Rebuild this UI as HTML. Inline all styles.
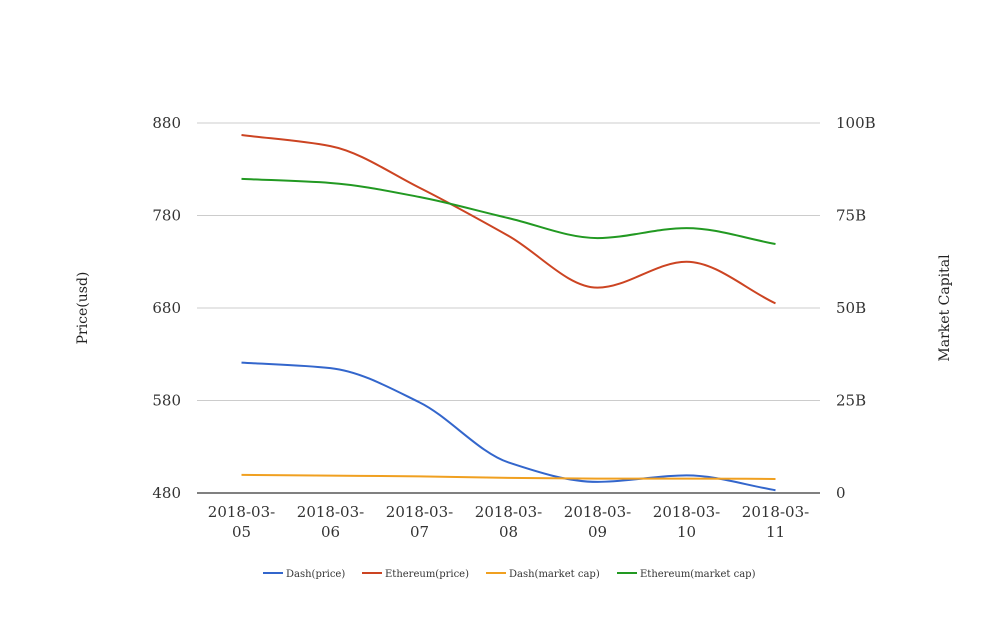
<!DOCTYPE html>
<html><head><meta charset="utf-8"><style>
body{margin:0;background:#fff;}
svg{font-family:"DejaVu Serif","Liberation Serif",serif;}
</style></head><body>
<svg id="chart" width="1008" height="616" xmlns="http://www.w3.org/2000/svg"></svg>
<script>
const categories=["2018-03-05","2018-03-06","2018-03-07","2018-03-08","2018-03-09","2018-03-10","2018-03-11"];
const dashPrice=[621,615,578,513,492,499,483];
const ethPrice=[867,855,810,758,702,730,685];
const dashCap=[4.9,4.7,4.5,4.1,3.9,3.9,3.8];
const ethCap=[84.9,83.8,80,74.3,68.9,71.6,67.3];
const leftTicks=[480,580,680,780,880];
const rightTicks=[0,25,50,75,100];
const rightTickLabels=["0","25B","50B","75B","100B"];

const NS="http://www.w3.org/2000/svg";
const svg=document.getElementById('chart');
const X0=197,X1=820,Y0=493,Y1=123;
const bw=(X1-X0)/categories.length;
const xs=i=>X0+bw*(i+0.5);
const yL=v=>Y0-(v-480)/400*(Y0-Y1);
const yR=v=>Y0-v/100*(Y0-Y1);
function mk(t,a,parent){const e=document.createElementNS(NS,t);for(const k in a)e.setAttribute(k,a[k]);(parent||svg).appendChild(e);return e;}
function txt(s,a){const e=mk('text',a);e.textContent=s;return e;}

leftTicks.forEach((v,i)=>{
  if(i>0){const g=mk('line',{x1:X0,x2:X1,y1:yL(v),y2:yL(v),stroke:'#ccc'});
  
  }
  const t=txt(String(v),{x:181,y:yL(v)+5,'text-anchor':'end','font-size':15,fill:'#333'});
  
  
});
rightTicks.forEach((v,i)=>{
  const t=txt(rightTickLabels[i],{x:836,y:yR(v)+5,'font-size':15,fill:'#333'});
  
  
});
const ax=mk('line',{x1:X0,x2:X1,y1:Y0,y2:Y0,stroke:'#000'});


categories.forEach((c,i)=>{
  const p=c.split('-');
  const t=txt(p[0]+'-'+p[1]+'-',{x:xs(i),y:517,'text-anchor':'middle','font-size':15,fill:'#333'});
  
  
  const t2=txt(p[2],{x:xs(i),y:537,'text-anchor':'middle','font-size':15,fill:'#333'});
  
  
});
const lt=txt('Price(usd)',{x:0,y:0,'text-anchor':'middle','font-size':14,fill:'#222',transform:'translate(87,308) rotate(-90)'});


const rt=txt('Market Capital',{x:0,y:0,'text-anchor':'middle','font-size':14,fill:'#222',transform:'translate(949,308) rotate(-90)'});



function monotone(pts){
  const n=pts.length,d=[],m=[];
  for(let i=0;i<n-1;i++)d.push((pts[i+1][1]-pts[i][1])/(pts[i+1][0]-pts[i][0]));
  m[0]=d[0];m[n-1]=d[n-2];
  for(let i=1;i<n-1;i++){m[i]=(d[i-1]*d[i]>0)?2/(1/d[i-1]+1/d[i]):0;}
  let s='M'+pts[0][0]+','+pts[0][1];
  for(let i=0;i<n-1;i++){const h=(pts[i+1][0]-pts[i][0])/3;
    s+=' C'+(pts[i][0]+h)+','+(pts[i][1]+m[i]*h)+' '+(pts[i+1][0]-h)+','+(pts[i+1][1]-m[i+1]*h)+' '+pts[i+1][0]+','+pts[i+1][1];}
  return s;
}
const series=[
 {name:'Dash(price)',data:dashPrice,y:yL,color:'#3366cc',key:'dash-price'},
 {name:'Ethereum(price)',data:ethPrice,y:yL,color:'#cc4422',key:'ethereum-price'},
 {name:'Dash(market cap)',data:dashCap,y:yR,color:'#f0a020',key:'dash-market-cap'},
 {name:'Ethereum(market cap)',data:ethCap,y:yR,color:'#229922',key:'ethereum-market-cap'}];
series.forEach(s=>{
  const p=mk('path',{d:monotone(s.data.map((v,i)=>[xs(i),s.y(v)])),fill:'none',stroke:s.color,'stroke-width':2});
  
  
});
const legX=[263,362,486,617];
series.forEach((s,i)=>{
  const g=mk('g',{});
  
  
  mk('line',{x1:legX[i],x2:legX[i]+20,y1:573,y2:573,stroke:s.color,'stroke-width':2},g);
  const t=mk('text',{x:legX[i]+23,y:577,'font-size':10,fill:'#333'},g);t.textContent=s.name;
});
</script>
</body></html>
